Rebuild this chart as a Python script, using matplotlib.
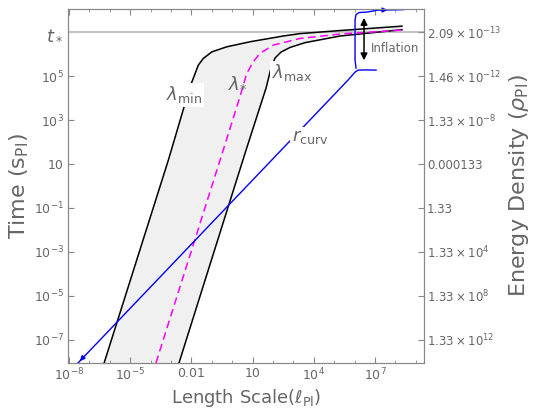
import numpy as np
import matplotlib.pyplot as plt

# log10 coordinates (x: length scale, y: time)
lmin_x = [-6.28, -3.13, -2.07, -1.66, -1.42, -1.0, -0.27, 0.87, 2.49, 3.32, 5.28, 8.32]
lmin_y = [-8.05, 1.18, 4.51, 5.50, 5.80, 6.10, 6.33, 6.56, 6.82, 6.93, 7.07, 7.27]

lmax_x = [-2.61, 0.68, 1.66, 1.90, 2.10, 2.39, 2.83, 3.57, 5.28, 8.32]
lmax_y = [-8.05, 1.64, 4.46, 5.36, 5.82, 6.09, 6.30, 6.52, 6.82, 7.11]

lstar_x = [-3.74, -0.44, 0.38, 0.71, 1.03, 1.36, 2.02, 3.32, 5.28, 8.32]
lstar_y = [-8.05, 1.64, 4.06, 5.12, 5.65, 6.03, 6.41, 6.71, 6.91, 7.09]

rcurv_x = [-7.56, 5.68, 5.87, 6.02, 6.17, 6.56, 7.05]
rcurv_y = [-8.05, 4.82, 5.02, 5.18, 5.27, 5.28, 5.27]

infl_x = [6.07, 6.02, 6.02, 6.07, 6.22, 6.61, 7.15, 8.37]
infl_y = [5.36, 5.73, 7.55, 7.80, 7.89, 7.91, 8.00, 8.02]

t_star = 7.0
y_ticks = [7, 5, 3, 1, -1, -3, -5, -7]
y_labels = [r'$t_*$', r'$10^{5}$', r'$10^{3}$', '10', r'$10^{-1}$', r'$10^{-3}$',
            r'$10^{-5}$', r'$10^{-7}$']
rho_labels = [r'$2.09\times10^{-13}$', r'$1.46\times10^{-12}$', r'$1.33\times10^{-8}$',
              '0.000133', '1.33', r'$1.33\times10^{4}$', r'$1.33\times10^{8}$',
              r'$1.33\times10^{12}$']
x_ticks = [-8, -5, -2, 1, 4, 7]
x_labels = [r'$10^{-8}$', r'$10^{-5}$', '0.01', '10', r'$10^{4}$', r'$10^{7}$']

gray = '#666666'
spine = '#888888'

fig = plt.figure(figsize=(5.36, 4.09), dpi=100)
ax = fig.add_axes([68/536, 1-363/409, 356/536, 354/409])
ax.set_xscale('log')
ax.set_yscale('log')
ax.set_xlim(10**-8.05, 10**9.4)
ax.set_ylim(10**-8.05, 10**8.05)

p = lambda v: 10.0**np.asarray(v, dtype=float)

# shaded band between lambda_min and lambda_max
ax.fill(np.concatenate([p(lmin_x), p(lmax_x)[::-1]]),
        np.concatenate([p(lmin_y), p(lmax_y)[::-1]]),
        color='#f0f0f0', lw=0, zorder=1)

ax.axhline(10**t_star, color='#c4c4c4', lw=1.5, zorder=2)

ax.plot(p(lmin_x), p(lmin_y), color='black', lw=1.1, zorder=3)
ax.plot(p(lmax_x), p(lmax_y), color='black', lw=1.1, zorder=3)
ax.plot(p(lstar_x), p(lstar_y), color='magenta', lw=1.1, ls=(0, (5, 3)), zorder=3)
ax.plot(p(rcurv_x), p(rcurv_y), color='blue', lw=1, zorder=3)
ax.plot(p(infl_x), p(infl_y), color='blue', lw=1, zorder=3)

# small arrow heads on the blue curve
ax.annotate('', xy=(p(rcurv_x[0]), p(rcurv_y[0])),
            xytext=(p(rcurv_x[0] + 0.4), p(rcurv_y[0] + 0.4)),
            arrowprops=dict(arrowstyle='-|>', color='blue', lw=1, mutation_scale=7))
ax.annotate('', xy=(p(infl_x[-2] + 0.6), p(infl_y[-2] + 0.01)),
            xytext=(p(infl_x[-2]), p(infl_y[-2])),
            arrowprops=dict(arrowstyle='-|>', color='blue', lw=1, mutation_scale=7))

# inflation arrow
ax.annotate('', xy=(10**6.46, 10**7.77), xytext=(10**6.46, 10**5.59),
            arrowprops=dict(arrowstyle='<|-|>', color='black', lw=1.1, mutation_scale=10))
ax.text(10**6.8, 10**6.27, 'Inflation', color=gray, fontsize=8.5, va='center', ha='left')

box = dict(facecolor='white', edgecolor='none', pad=1)
ax.text(10**-2.36, 10**4.14, r'$\lambda_{\mathrm{min}}$', color=gray, fontsize=13,
        ha='center', va='center', bbox=box, zorder=4)
ax.text(10**0.28, 10**4.73, r'$\lambda_{*}$', color=gray, fontsize=13,
        ha='center', va='center', zorder=4)
ax.text(10**2.93, 10**5.14, r'$\lambda_{\mathrm{max}}$', color=gray, fontsize=13,
        ha='center', va='center', bbox=box, zorder=4)
ax.text(10**3.81, 10**2.23, r'$r_{\mathrm{curv}}$', color=gray, fontsize=13,
        ha='center', va='center', bbox=box, zorder=4)

ax.set_xticks(p(x_ticks))
ax.set_xticklabels(x_labels)
ax.set_xticks(p(np.arange(-8, 10)), minor=True)
ax.set_xticklabels([], minor=True)
ax.set_yticks(p(y_ticks))
ax.set_yticklabels(y_labels)
ax.yaxis.set_minor_locator(plt.NullLocator())
ax.tick_params(axis='both', which='major', direction='in', length=4, color=spine,
               labelcolor=gray, labelsize=9, pad=3)
ax.tick_params(axis='x', which='minor', direction='in', length=2.5, color=spine, top=True)
ax.tick_params(axis='x', which='major', top=True)
ax.get_yticklabels()[0].set_fontsize(13)
for s in ax.spines.values():
    s.set_color(spine)

ax.set_xlabel(r'Length Scale$(\ell_{\mathrm{Pl}})$', color=gray, fontsize=13, labelpad=2)
ax.set_ylabel(r'Time (s$_{\mathrm{Pl}}$)', color=gray, fontsize=16, labelpad=2)

ax2 = ax.twinx()
ax2.set_yscale('log')
ax2.set_ylim(ax.get_ylim())
ax2.set_yticks(p(y_ticks))
ax2.set_yticklabels(rho_labels)
ax2.yaxis.set_minor_locator(plt.NullLocator())
ax2.tick_params(axis='y', direction='in', length=4, color=spine, labelcolor=gray,
                labelsize=8.5, pad=2)
for s in ax2.spines.values():
    s.set_color(spine)
ax2.set_ylabel(r'Energy Density ($\rho_{\mathrm{Pl}}$)', color=gray, fontsize=16, labelpad=4)

fig.savefig('out.png', dpi=100)
